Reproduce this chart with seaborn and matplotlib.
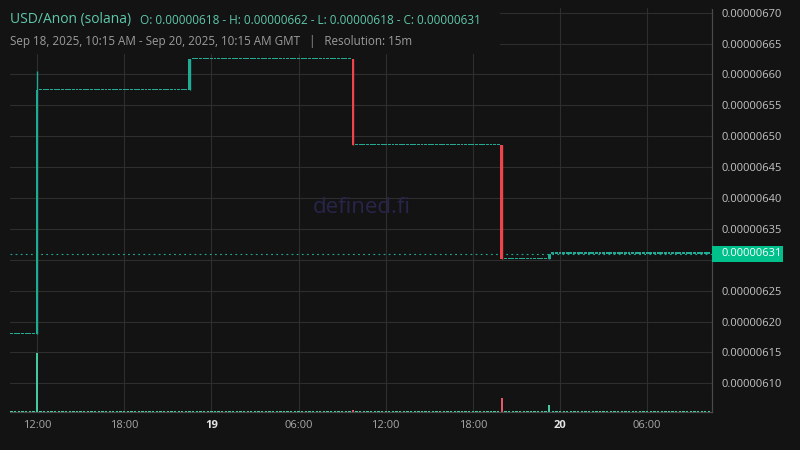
import matplotlib
matplotlib.use("Agg")
import matplotlib.pyplot as plt
import matplotlib.transforms as mtransforms
from matplotlib.patches import Rectangle
import numpy as np
import pandas as pd
import seaborn as sns

# 15m candles that actually moved; hours after Sep 18 2025 00:00 GMT
move_hours = [12.0, 22.5, 33.75, 44.0, 47.25]
move_open = [6.180e-6, 6.575e-6, 6.625e-6, 6.485e-6, 6.301e-6]
move_high = [6.605e-6, 6.625e-6, 6.625e-6, 6.485e-6, 6.310e-6]
move_low = [6.180e-6, 6.575e-6, 6.485e-6, 6.301e-6, 6.301e-6]
move_close = [6.575e-6, 6.625e-6, 6.485e-6, 6.301e-6, 6.310e-6]
move_volume = [1180, 10, 40, 280, 140]
first_price = 6.18e-6
last_price = 6.31e-6

start_hour = 10.25   # Sep 18, 10:15
end_hour = 58.25     # Sep 20, 10:15
step = 0.25          # 15m

price_ticks = [6.10e-6, 6.15e-6, 6.20e-6, 6.25e-6, 6.30e-6, 6.35e-6, 6.40e-6,
               6.45e-6, 6.50e-6, 6.55e-6, 6.60e-6, 6.65e-6, 6.70e-6]
x_tick_hours = [12, 18, 24, 30, 36, 42, 48, 54]
x_tick_labels = ["12:00", "18:00", "19", "06:00", "12:00", "18:00", "20", "06:00"]

BG = "#131313"
UP = "#22ab94"
DOWN = "#f0444c"
UP_VOL = "#45c9a0"
DOWN_VOL = "#e8566a"
GRID = "#2e2e2e"

# every 15m bar: flat bars repeat the previous close
moves = dict(zip(move_hours, zip(move_open, move_high, move_low, move_close, move_volume)))
rows = []
prev = first_price
for t in np.arange(start_hour, end_hour + step / 2, step):
    t = round(float(t), 2)
    if t in moves:
        o, h, l, c, v = moves[t]
    else:
        o = h = l = c = prev
        v = 0
    rows.append((t, o, h, l, c, v))
    prev = c
df = pd.DataFrame(rows, columns=["hour", "open", "high", "low", "close", "volume"])

sns.set_theme(style="dark")
plt.rcParams["font.family"] = ["Open Sans", "DejaVu Sans"]

fig = plt.figure(figsize=(8, 4.5), dpi=100, facecolor=BG)
pos = [10 / 800, 1 - 412 / 450, 702 / 800, 404 / 450]
ax = fig.add_axes(pos)
ax.set_facecolor(BG)

ylo, yhi = 6.0537e-6, 6.7075e-6
px = (yhi - ylo) / 404
ax.set_ylim(ylo, yhi)
ax.set_xlim(10.14, 58.46)

up = df["close"] >= df["open"]
colors = np.where(up, UP, DOWN)
body_bottom = df[["open", "close"]].min(axis=1)
body_h = (df["close"] - df["open"]).abs().clip(lower=1.3 * px)
ax.bar(df["hour"], body_h, bottom=body_bottom, width=0.2, color=colors,
       linewidth=0, zorder=3)
ax.vlines(df["hour"], df["low"], df["high"], colors=colors, lw=1, zorder=3)

ax.axhline(last_price, color=UP, lw=0.8, ls=(0, (1.6, 3)), zorder=2)

# axes styling
ax.grid(True, color=GRID, lw=0.8)
ax.set_axisbelow(True)
ax.yaxis.tick_right()
# the 0.00000630 label sits under the last-price tag, so it is left blank
ax.set_yticks(price_ticks, ["" if abs(v - last_price) < 2e-8 else f"{v:.8f}"
                            for v in price_ticks])
ax.tick_params(axis="y", length=0, pad=7, labelsize=8, labelcolor="#c4c4c4")
ax.set_xticks(x_tick_hours, x_tick_labels)
ax.tick_params(axis="x", length=0, pad=6, labelsize=8, labelcolor="#a8a8a8")
for lab in ax.get_xticklabels():
    if ":" not in lab.get_text():
        lab.set_fontweight("bold")
        lab.set_color("#e4e4e4")
for side in ["left", "top"]:
    ax.spines[side].set_visible(False)
for side in ["right", "bottom"]:
    ax.spines[side].set_color("#4a4a4a")
    ax.spines[side].set_linewidth(0.9)

ax.text(0.501, 0.507, "defined.fi", transform=ax.transAxes, ha="center", va="center",
        fontsize=16, color="#27254a", zorder=1)

# volume overlay
vax = fig.add_axes(pos, sharex=ax)
vax.patch.set_alpha(0)
vmax = max(move_volume) * 404 / 59
vax.set_ylim(0, vmax)
vol_colors = np.where(up, UP_VOL, DOWN_VOL)
vax.bar(df["hour"], df["volume"].clip(lower=1.2 * vmax / 404), width=0.16,
        color=vol_colors, linewidth=0)
vax.axis("off")

# last price tag
trans = mtransforms.blended_transform_factory(ax.transAxes, ax.transData)
ax.add_patch(Rectangle((1.0, last_price - 8 * px), 71 / 702, 16 * px, transform=trans,
                       facecolor="#00c08b", edgecolor="none", clip_on=False, zorder=6))
ax.text(1 + 10 / 702, last_price, f"{last_price:.8f}", transform=trans, ha="left",
        va="center", fontsize=8, color="white", zorder=7, clip_on=False)

# header box and texts
fig.add_artist(Rectangle((0, 1 - 54 / 450), 500 / 800, 54 / 450, transform=fig.transFigure,
                         facecolor=BG, edgecolor="none", zorder=5))
fig.add_artist(Rectangle((712 / 800, 1 - 9 / 450), 88 / 800, 9 / 450, transform=fig.transFigure,
                         facecolor=BG, edgecolor="none", zorder=5))
fig.text(10 / 800, 1 - 20 / 450, "USD/Anon (solana)", fontsize=10, color="#5ec8a8",
         va="center", ha="left", zorder=6)
fig.text(140 / 800, 1 - 20 / 450,
         "O: 0.00000618 - H: 0.00000662 - L: 0.00000618 - C: 0.00000631",
         fontsize=8.5, color="#5ec8a8", va="center", ha="left", zorder=6)
fig.text(10 / 800, 1 - 41 / 450,
         "Sep 18, 2025, 10:15 AM - Sep 20, 2025, 10:15 AM GMT   |   Resolution: 15m",
         fontsize=8.4, color="#9c9c9c", va="center", ha="left", zorder=6)

fig.savefig("out.png", dpi=100, facecolor=BG)
